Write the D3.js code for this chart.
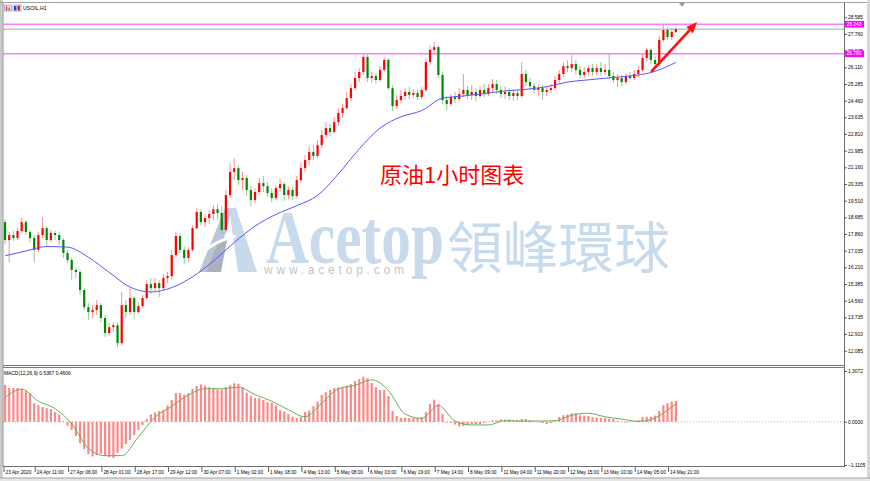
<!DOCTYPE html>
<html><head><meta charset="utf-8">
<script src="https://cdn.jsdelivr.net/npm/d3@7"></script>
<style>html,body{margin:0;padding:0;background:#fff;overflow:hidden}</style>
</head><body><svg id="c" width="870" height="481"></svg>
<script>
// ---------------- DATA ----------------
const title = "USOIL,H1";
// 2-hour candles, 23 Apr 2020 -> 15 May 2020
const open = [
18.45,17.56,17.81,17.66,18.01,18.45,17.96,17.66,17.07,17.81,
18.15,17.56,17.91,17.81,17.56,16.92,16.57,16.08,15.98,15.09,
14.24,14.00,14.10,14.34,13.70,12.96,13.25,13.35,12.46,14.34,
14.00,14.69,14.00,14.29,14.69,15.38,15.18,15.43,15.18,15.68,
15.78,16.82,17.76,17.07,16.67,17.07,18.15,18.95,18.45,18.65,
18.85,19.09,18.90,18.06,19.79,20.93,21.12,20.53,20.63,20.04,
19.54,19.94,20.38,20.23,19.89,19.64,20.13,20.33,19.79,20.04,
19.74,20.53,21.12,21.52,21.92,21.72,22.26,22.76,23.10,22.91,
23.40,23.85,24.09,24.59,25.08,25.58,25.88,26.62,25.58,25.68,
25.48,25.98,26.47,25.08,24.19,24.49,24.69,24.89,24.74,24.84,
24.64,24.99,26.37,26.97,27.11,25.73,24.49,24.29,24.64,24.54,
24.79,24.99,24.74,24.89,24.69,24.99,24.79,25.08,25.28,24.99,
24.79,24.89,24.69,24.84,24.69,25.78,25.38,25.18,24.99,25.08,
24.89,24.99,25.08,25.48,25.78,26.17,26.07,26.27,25.98,25.73,
25.88,26.07,25.88,26.07,25.88,25.98,25.68,25.48,25.58,25.38,
25.68,25.58,25.78,25.98,26.57,26.97,26.47,26.27,27.46,27.96,
27.61,27.86];
const high = [
18.60,17.96,18.01,18.15,18.65,18.55,18.06,17.81,17.96,18.70,
18.25,18.06,18.01,17.96,17.66,17.07,16.72,16.17,16.08,15.18,
14.44,14.34,14.59,14.44,13.85,13.45,13.50,13.50,14.99,14.59,
15.18,14.79,14.49,14.84,15.58,15.68,15.68,15.58,15.88,15.98,
17.07,17.96,17.91,17.21,17.21,18.30,19.14,19.09,18.85,19.05,
19.29,19.34,19.24,20.04,21.37,21.62,21.27,20.93,20.78,20.23,
20.13,20.63,20.73,20.43,20.13,20.28,20.63,20.43,20.23,20.23,
20.73,21.42,21.77,22.21,22.26,22.51,23.01,23.40,23.30,23.65,
24.09,24.29,24.89,25.28,25.88,26.07,26.82,26.72,25.88,25.83,
26.17,26.62,26.57,25.23,24.74,24.99,25.08,25.13,25.03,24.99,
25.13,26.57,27.21,27.36,27.21,25.88,24.69,24.79,24.89,25.08,
25.78,25.18,25.23,25.08,25.18,25.28,25.28,25.53,25.48,25.18,
25.18,25.08,25.03,24.99,26.37,25.98,25.58,25.33,25.28,25.23,
25.18,25.28,25.68,25.98,26.37,26.47,26.72,26.47,26.17,26.12,
26.22,26.27,26.27,26.37,26.27,26.82,25.88,25.78,25.73,25.83,
25.88,25.98,26.17,26.77,27.06,27.06,26.67,27.66,28.20,28.10,
28.05,28.10];
const low = [
17.36,16.47,17.51,17.56,17.91,17.81,17.46,16.47,16.97,17.66,
17.21,17.46,17.56,17.31,16.67,16.42,15.58,15.68,14.84,14.10,
13.60,13.70,13.85,13.50,12.76,12.81,13.01,12.26,12.36,13.70,
13.85,13.70,13.90,14.19,14.59,14.89,15.04,14.74,15.09,15.43,
15.63,16.72,16.92,16.37,16.47,16.97,18.06,18.30,18.20,18.35,
18.55,18.60,17.86,17.91,19.64,20.53,20.28,20.04,19.74,19.24,
19.39,19.79,19.94,19.69,19.44,19.54,19.94,19.49,19.59,19.54,
19.64,20.38,20.93,21.27,21.52,21.62,22.11,22.61,22.71,22.81,
23.20,23.60,24.00,24.44,24.99,25.38,25.73,25.38,25.33,25.28,
25.38,25.88,24.99,23.95,24.04,24.34,24.49,24.54,24.59,24.49,
24.54,24.89,26.22,26.72,25.58,24.29,24.00,24.19,24.34,24.44,
24.64,24.54,24.49,24.44,24.59,24.64,24.69,24.89,24.79,24.59,
24.54,24.49,24.44,24.49,24.59,25.18,24.99,24.79,24.74,24.49,
24.69,24.84,24.99,25.33,25.63,25.88,25.88,25.78,25.58,25.58,
25.68,25.68,25.73,25.68,25.73,25.53,25.33,25.13,25.18,25.28,
25.48,25.48,25.63,25.88,26.37,26.27,26.07,26.17,27.36,27.46,
27.46,27.81];
const close = [
17.56,17.81,17.66,18.01,18.45,17.96,17.66,17.07,17.81,18.15,
17.56,17.91,17.81,17.56,16.92,16.57,16.08,15.98,15.09,14.24,
14.00,14.10,14.34,13.70,12.96,13.25,13.35,12.46,14.34,14.00,
14.69,14.00,14.29,14.69,15.38,15.18,15.43,15.18,15.68,15.78,
16.82,17.76,17.07,16.67,17.07,18.15,18.95,18.45,18.65,18.85,
19.09,18.90,18.06,19.79,20.93,21.12,20.53,20.63,20.04,19.54,
19.94,20.38,20.23,19.89,19.64,20.13,20.33,19.79,20.04,19.74,
20.53,21.12,21.52,21.92,21.72,22.26,22.76,23.10,22.91,23.40,
23.85,24.09,24.59,25.08,25.58,25.88,26.62,25.58,25.68,25.48,
25.98,26.47,25.08,24.19,24.49,24.69,24.89,24.74,24.84,24.64,
24.99,26.37,26.97,27.11,25.73,24.49,24.29,24.64,24.54,24.79,
24.99,24.74,24.89,24.69,24.99,24.79,25.08,25.28,24.99,24.79,
24.89,24.69,24.84,24.69,25.78,25.38,25.18,24.99,25.08,24.89,
24.99,25.08,25.48,25.78,26.17,26.07,26.27,25.98,25.73,25.88,
26.07,25.88,26.07,25.88,25.98,25.68,25.48,25.58,25.38,25.68,
25.58,25.78,25.98,26.57,26.97,26.47,26.27,27.46,27.96,27.61,
27.86,28.00];
// moving average (blue), sampled at candle numbers
const maIdx = [0,5,10,15,20,25,30,35,40,45,50,55,60,65,70,75,80,85,90,95,100,105,110,115,120,125,130,135,140,145,150,155,160,161];
const maVal = [16.78,17.02,17.24,17.21,16.71,15.96,15.23,14.99,15.21,15.74,16.52,17.44,18.25,18.83,19.26,19.77,20.83,22.07,23.10,23.66,23.97,24.58,24.69,24.81,24.94,25.02,25.15,25.38,25.49,25.59,25.68,25.85,26.25,26.35];
// MACD main (histogram), one per candle
const macdMain = [
0.95,0.87,0.87,0.87,0.85,0.79,0.74,0.48,0.43,0.38,
0.35,0.33,0.25,0.19,0.02,-0.10,-0.21,-0.37,-0.55,-0.70,
-0.83,-0.89,-0.86,-0.82,-0.87,-0.91,-0.93,-0.80,-0.69,-0.57,
-0.47,-0.34,-0.21,-0.08,0.07,0.19,0.24,0.28,0.31,0.42,
0.56,0.74,0.74,0.70,0.74,0.85,0.92,0.96,0.93,0.89,
0.87,0.83,0.83,0.89,0.94,0.99,0.98,0.89,0.75,0.66,
0.61,0.61,0.56,0.51,0.49,0.42,0.30,0.26,0.20,0.13,
0.10,0.12,0.25,0.29,0.40,0.52,0.69,0.76,0.82,0.87,
0.89,0.89,0.93,0.97,1.05,1.10,1.16,1.12,1.00,0.89,
0.82,0.83,0.66,0.28,0.15,0.10,0.10,0.10,0.10,0.10,
0.12,0.25,0.46,0.57,0.46,0.20,-0.02,-0.03,-0.07,-0.12,
-0.11,-0.08,-0.06,-0.06,-0.06,-0.03,-0.01,0.04,0.04,0.06,
0.06,0.06,0.04,0.04,0.07,0.07,0.04,0.02,-0.01,-0.03,
-0.06,-0.03,0.02,0.12,0.17,0.19,0.22,0.22,0.17,0.16,
0.15,0.12,0.11,0.10,0.10,0.08,0.07,0.03,-0.01,-0.02,
-0.01,0.01,0.04,0.12,0.13,0.13,0.16,0.28,0.43,0.48,
0.52,0.5367];
// MACD signal (green)
const signalIdx = [0,4,8,12,16,20,24,28,32,36,40,44,48,52,56,60,64,68,72,76,80,84,88,92,96,100,104,108,112,116,120,124,128,132,136,140,144,148,152,156,160,161];
const signalVal = [0.63,0.84,0.53,0.34,-0.05,-0.68,-0.87,-0.87,-0.39,0.12,0.40,0.69,0.85,0.85,0.89,0.70,0.53,0.31,0.13,0.48,0.85,0.94,1.08,0.81,0.20,0.09,0.42,0.02,-0.08,-0.08,0.03,0.02,0.02,0.03,0.17,0.22,0.13,0.07,0.01,0.10,0.38,0.4606];

const priceTicks = [28.585,27.760,26.935,26.110,25.285,24.460,23.635,22.810,21.985,21.160,20.335,19.510,18.685,17.860,17.035,16.210,15.385,14.560,13.735,12.910,12.085];
const macdTicks = [1.3072,0,-1.1105];
// hourly bar numbers of the time labels
const timeTickBars = [0,15,31,47,63,79,95,111,127,143,159,175,191,207,223,239,255,271,287,303,319];
const timeTickLabels = ["23 Apr 2020","24 Apr 11:00","27 Apr 06:00","28 Apr 01:00","28 Apr 17:00","29 Apr 12:00","30 Apr 07:00","1 May 02:00","1 May 18:00","4 May 13:00","5 May 08:00","6 May 03:00","6 May 19:00","7 May 14:00","8 May 09:00","11 May 04:00","11 May 20:00","12 May 15:00","13 May 10:00","14 May 05:00","14 May 21:00"];
const levels = [28.243, 26.780];
const levelLabels = ["28.243","26.780"];
const bidPrice = 27.99;
const macdLabel = "MACD(12,26,9) 0.5367 0.4606";
const noteText = "原油1小时图表";
const arrowFrom = [310.6, 25.88]; // [hour bar, price]
const arrowTo = [332.7, 28.35];

// ---------------- DRAW ----------------
const W = 870, H = 481;
const L = 3, R = 844, mainTop = 3, mainBot = 365, macdTop = 368, macdBot = 467;
const svg = d3.select("#c");
const FONT = "'Liberation Sans', Arial, sans-serif";

const x = d3.scaleLinear().domain([0, 324]).range([4, 679]);
const y = d3.scaleLinear().domain([12.085, 28.585]).range([350.7, 17.3]);
const ym = d3.scaleLinear().domain([-1.1105, 1.3072]).range([465, 371]);
const cx = j => x(2 * j + 0.5);

svg.append("rect").attr("width", W).attr("height", H).attr("fill", "#fff");
const defs = svg.append("defs");
defs.append("clipPath").attr("id", "clipMain").append("rect")
  .attr("x", L).attr("y", mainTop).attr("width", R - L).attr("height", mainBot - mainTop);
defs.append("clipPath").attr("id", "clipMacd").append("rect")
  .attr("x", L).attr("y", macdTop).attr("width", R - L).attr("height", macdBot - macdTop);

// ---- watermark ----
const wm = svg.append("g");
wm.append("polygon").attr("points", "199,272 225,208 232,208 215,272").attr("fill", "#b9c6d3");
wm.append("polygon").attr("points", "229,208 236,208 257,272 238,272").attr("fill", "#c7d9ea");
wm.append("polygon").attr("points", "206,272 219,240 227,240 221,272").attr("fill", "#aab3bd");
wm.append("path").attr("d", "M196,258 Q215,240 236,236").attr("fill", "none").attr("stroke", "#fff").attr("stroke-width", 3);
wm.append("text").attr("x", 266).attr("y", 263).attr("font-family", "'Liberation Serif', 'DejaVu Serif', serif")
  .attr("font-weight", "bold").attr("font-size", 76).attr("fill", "#c8dbed")
  .attr("textLength", 178).attr("lengthAdjust", "spacingAndGlyphs").text("Acetop");
wm.append("text").attr("x", 447).attr("y", 268).attr("font-family", "'Noto Sans CJK TC', sans-serif")
  .attr("font-size", 56).attr("fill", "#c8dbed").attr("textLength", 223).attr("lengthAdjust", "spacingAndGlyphs").text("領峰環球");
wm.append("text").attr("x", 264).attr("y", 274).attr("font-family", FONT)
  .attr("font-size", 12).attr("fill", "#c4c4c4").attr("textLength", 140).attr("lengthAdjust", "spacing").text("www.acetop.com");

// ---- main panel ----
const gM = svg.append("g").attr("clip-path", "url(#clipMain)");
gM.append("line").attr("x1", L).attr("x2", R).attr("y1", y(bidPrice)).attr("y2", y(bidPrice))
  .attr("stroke", "#c4c4c4").attr("stroke-width", 1.4);
gM.selectAll("line.lvl").data(levels).join("line").attr("class", "lvl")
  .attr("x1", L).attr("x2", R).attr("y1", d => y(d)).attr("y2", d => y(d))
  .attr("stroke", "#ff7cff").attr("stroke-width", 1.6);

const candles = d3.range(close.length).map(j => ({ j, o: open[j], h: high[j], l: low[j], c: close[j] }));
gM.selectAll("line.wick").data(candles).join("line").attr("class", "wick")
  .attr("x1", d => cx(d.j)).attr("x2", d => cx(d.j))
  .attr("y1", d => y(d.h)).attr("y2", d => y(d.l))
  .attr("stroke", d => d.c >= d.o ? "#ff9090" : "#90cc90").attr("stroke-width", 1);
gM.selectAll("rect.body").data(candles).join("rect").attr("class", "body")
  .attr("x", d => cx(d.j) - 1.1).attr("width", 2.2)
  .attr("y", d => y(Math.max(d.o, d.c)))
  .attr("height", d => Math.max(1, Math.abs(y(d.o) - y(d.c))))
  .attr("fill", d => d.c >= d.o ? "#ff0000" : "#008800");

gM.append("path").datum(maVal)
  .attr("d", d3.line().x((d, i) => cx(maIdx[i])).y(d => y(d)).curve(d3.curveMonotoneX))
  .attr("fill", "none").attr("stroke", "#5656ff").attr("stroke-width", 1);

// arrow
const ax1 = x(arrowFrom[0]), ay1 = y(arrowFrom[1]), ax2 = x(arrowTo[0]), ay2 = y(arrowTo[1]);
const len = Math.hypot(ax2 - ax1, ay2 - ay1), ux = (ax2 - ax1) / len, uy = (ay2 - ay1) / len;
const bx = ax2 - ux * 11, by = ay2 - uy * 11;
gM.append("line").attr("x1", ax1).attr("y1", ay1).attr("x2", bx).attr("y2", by)
  .attr("stroke", "#ff1010").attr("stroke-width", 2.6);
gM.append("polygon").attr("points", [[ax2, ay2], [bx - uy * 4.5, by + ux * 4.5], [bx + uy * 4.5, by - ux * 4.5]].map(p => p.join(",")).join(" "))
  .attr("fill", "#ff1010");

// note
svg.append("text").attr("x", 380).attr("y", 183).attr("font-family", "'Noto Sans CJK SC', sans-serif")
  .attr("font-size", 22).attr("fill", "#ff0000").text(noteText);

// ---- MACD panel ----
const gD = svg.append("g").attr("clip-path", "url(#clipMacd)");
gD.append("line").attr("x1", L).attr("x2", R).attr("y1", ym(0)).attr("y2", ym(0))
  .attr("stroke", "#b0b0b0").attr("stroke-dasharray", "1,2");
gD.selectAll("rect.h").data(macdMain).join("rect").attr("class", "h")
  .attr("x", (d, i) => cx(i) - 1.1).attr("width", 2.2)
  .attr("y", d => ym(Math.max(d, 0))).attr("height", d => Math.abs(ym(d) - ym(0)))
  .attr("fill", "#ff8787");
gD.append("path").datum(signalVal)
  .attr("d", d3.line().x((d, i) => cx(signalIdx[i])).y(d => ym(d)).curve(d3.curveMonotoneX))
  .attr("fill", "none").attr("stroke", "#5fb35f").attr("stroke-width", 1);
svg.append("text").attr("x", 4).attr("y", 375).attr("font-family", FONT).attr("font-size", 4.9)
  .attr("fill", "#000").text(macdLabel);

// ---- frame ----
svg.append("rect").attr("x", 0).attr("y", 0).attr("width", 2.6).attr("height", 478).attr("fill", "#c8c8c8");
svg.append("line").attr("x1", 3).attr("x2", 3).attr("y1", 3).attr("y2", 467).attr("stroke", "#909090");
svg.append("line").attr("x1", 0).attr("x2", W).attr("y1", 2.5).attr("y2", 2.5).attr("stroke", "#a0a0a0");
svg.append("line").attr("x1", L).attr("x2", R).attr("y1", 365.5).attr("y2", 365.5).attr("stroke", "#7a7a7a");
svg.append("line").attr("x1", L).attr("x2", R).attr("y1", 367.5).attr("y2", 367.5).attr("stroke", "#7a7a7a");
svg.append("line").attr("x1", L).attr("x2", R).attr("y1", 466.5).attr("y2", 466.5).attr("stroke", "#707070");
svg.append("line").attr("x1", 844.5).attr("x2", 844.5).attr("y1", 3).attr("y2", 467).attr("stroke", "#707070");
svg.append("rect").attr("x", 867).attr("y", 0).attr("width", 3).attr("height", H).attr("fill", "#d8d8d8");
svg.append("rect").attr("x", 0).attr("y", 478).attr("width", W).attr("height", 3).attr("fill", "#e6e6e6");
svg.append("line").attr("x1", 0).attr("x2", W).attr("y1", 478).attr("y2", 478).attr("stroke", "#a0a0a0");
svg.append("polygon").attr("points", "679,3 685,3 682,7").attr("fill", "#9a9a9a");

// title & icon
svg.append("rect").attr("x", 4.5).attr("y", 5).attr("width", 7).attr("height", 6).attr("fill", "#dcdcec").attr("stroke", "#9090b0").attr("stroke-width", 0.6);
svg.append("rect").attr("x", 6).attr("y", 6.5).attr("width", 1.2).attr("height", 4).attr("fill", "#d04040");
svg.append("rect").attr("x", 8.5).attr("y", 7.5).attr("width", 1.2).attr("height", 3).attr("fill", "#d04040");
svg.append("rect").attr("x", 13).attr("y", 5).attr("width", 8).attr("height", 6).attr("fill", "#ffffff").attr("stroke", "#8080a0").attr("stroke-width", 0.6);
svg.append("rect").attr("x", 14).attr("y", 6).attr("width", 2.5).attr("height", 4.5).attr("fill", "#2040d0");
svg.append("rect").attr("x", 17.5).attr("y", 5.5).attr("width", 2.5).attr("height", 5).attr("fill", "#e02020");
svg.append("text").attr("x", 23).attr("y", 10).attr("font-family", FONT).attr("font-size", 5.2).attr("fill", "#000").text(title);

// ---- axes ----
const styleAxis = g => {
  g.select(".domain").remove();
  g.selectAll(".tick line").attr("stroke", "#606060");
  g.selectAll(".tick text").attr("font-family", FONT).attr("font-size", 4.9).attr("fill", "#000");
};
svg.append("g").attr("transform", "translate(844,0)")
  .call(d3.axisRight(y).tickValues(priceTicks).tickSize(3).tickPadding(1).tickFormat(d3.format(".3f")))
  .call(styleAxis);
svg.append("g").attr("transform", "translate(844,0)")
  .call(d3.axisRight(ym).tickValues(macdTicks).tickSize(3).tickPadding(1).tickFormat(d3.format(".4f")))
  .call(styleAxis);

// level labels on axis
const lab = svg.append("g");
lab.selectAll("rect").data(levels).join("rect")
  .attr("x", 845).attr("y", d => y(d) - 3.3).attr("width", 19).attr("height", 6.6).attr("fill", "#ff00ff");
lab.selectAll("text").data(levels).join("text")
  .attr("x", 846.5).attr("y", d => y(d) + 1.7).attr("font-family", FONT).attr("font-size", 4.9)
  .attr("fill", "#fff").text((d, i) => levelLabels[i]);

// time axis
const gT = svg.append("g");
gT.selectAll("line").data(timeTickBars).join("line")
  .attr("x1", d => x(d)).attr("x2", d => x(d)).attr("y1", 467).attr("y2", 472)
  .attr("stroke", "#606060");
gT.selectAll("text").data(timeTickBars).join("text")
  .attr("x", d => x(d) + 1.5).attr("y", 473.5).attr("font-family", FONT).attr("font-size", 4.8)
  .attr("fill", "#000").text((d, i) => timeTickLabels[i]);
</script></body></html>
